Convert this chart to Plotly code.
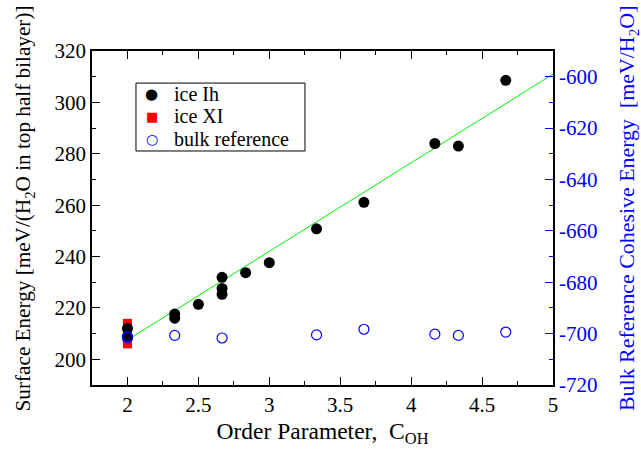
import plotly.graph_objects as go

# Data
ih_x = [2, 2, 2.333, 2.333, 2.5, 2.667, 2.667, 2.667, 2.833, 3, 3.333, 3.667, 4.167, 4.333, 4.667]
ih_y = [212.0, 208.5, 217.6, 216.0, 221.4, 231.9, 227.6, 225.3, 233.7, 237.6, 250.8, 261.1, 284.0, 283.0, 308.6]

xi_x = [2, 2, 2, 2]
xi_y = [214.0, 211.0, 208.5, 206.0]

bulk_x = [2, 2, 2.333, 2.667, 3.333, 3.667, 4.167, 4.333, 4.667]
bulk_y = [-701.2, -701.6, -700.7, -701.7, -700.5, -698.3, -700.2, -700.7, -699.4]

fit_x = [2, 5]
fit_y = [207.5, 311.0]

left_ticks = [200, 220, 240, 260, 280, 300, 320]
right_ticks = [-720, -700, -680, -660, -640, -620, -600]
x_ticks = [2, 2.5, 3, 3.5, 4, 4.5, 5]

legend_names = ["ice Ih", "ice XI", "bulk reference"]
legend_glyphs = ["\u25cf", "\u25a0", "\u25cb"]
legend_colors = ["black", "#ff0000", "#0000ff"]

FONT = "Liberation Serif, Times New Roman, serif"
BLUE = "#0000ff"

fig = go.Figure()
fig.add_trace(go.Scatter(x=fit_x, y=fit_y, mode="lines", line=dict(color="#00ee00", width=1),
                         showlegend=False, hoverinfo="skip"))
fig.add_trace(go.Scatter(x=xi_x, y=xi_y, mode="markers", name="ice XI",
                         marker=dict(symbol="square", size=9, color="#ff0000")))
fig.add_trace(go.Scatter(x=ih_x, y=ih_y, mode="markers", name="ice Ih",
                         marker=dict(symbol="circle", size=11, color="black")))
fig.add_trace(go.Scatter(x=bulk_x, y=bulk_y, mode="markers", name="bulk reference", yaxis="y2",
                         marker=dict(symbol="circle-open", size=10, color=BLUE, line=dict(width=1.2, color=BLUE))))
# invisible trace on a top x axis to carry mirrored ticks
fig.add_trace(go.Scatter(x=fit_x, y=fit_y, xaxis="x2", mode="lines", line=dict(width=0),
                         opacity=0, showlegend=False, hoverinfo="skip"))

# manual legend box (paper coordinates)
lx0, lx1, ly0, ly1 = 0.0954, 0.462, 0.7006, 0.904
fig.add_shape(type="rect", xref="paper", yref="paper", x0=lx0, x1=lx1, y0=ly0, y1=ly1,
              line=dict(color="black", width=1), fillcolor="white", layer="above")
item_y = [0.871, 0.804, 0.737]
glyph_sizes = [15, 13, 14]
for name, glyph, col, yy, gs in zip(legend_names, legend_glyphs, legend_colors, item_y, glyph_sizes):
    fig.add_annotation(xref="paper", yref="paper", x=0.1295, y=yy, text=glyph, showarrow=False,
                       xanchor="center", yanchor="middle",
                       font=dict(family="DejaVu Sans", size=gs, color=col))
    fig.add_annotation(xref="paper", yref="paper", x=0.1746, y=yy, text=name, showarrow=False,
                       xanchor="left", yanchor="middle", font=dict(family=FONT, size=20, color="black"))

# y-axis titles as rotated annotations for exact placement
fig.add_annotation(xref="paper", yref="paper", x=-0.148, y=0.528, textangle=-90,
                   text="Surface Energy [meV/(H<sub>2</sub>O in top half bilayer)]", showarrow=False,
                   xanchor="center", yanchor="middle", font=dict(family=FONT, size=21.2, color="black"))
fig.add_annotation(xref="paper", yref="paper", x=1.1627, y=0.527, textangle=-90,
                   text="Bulk Reference Cohesive Energy  [meV/H<sub>2</sub>O]", showarrow=False,
                   xanchor="center", yanchor="middle", font=dict(family=FONT, size=21.9, color=BLUE))

fig.update_layout(
    width=641, height=452,
    margin=dict(l=92, r=88, t=51, b=67),
    paper_bgcolor="white", plot_bgcolor="white",
    font=dict(family=FONT, size=21, color="black"),
    showlegend=False,
    xaxis=dict(range=[1.75, 5], tickvals=x_ticks, ticktext=[str(v) for v in x_ticks],
               ticks="inside", ticklen=8, tickwidth=1, tickcolor="black",
               showline=True, linecolor="black", linewidth=1.5, mirror=True,
               showgrid=False, zeroline=False,
               minor=dict(dtick=0.25, tick0=0, ticks="inside", ticklen=4, tickcolor="black", showgrid=False),
               title=dict(text="Order Parameter,  C<sub>OH</sub>", font=dict(size=23.5), standoff=7),
               tickfont=dict(size=21)),
    xaxis2=dict(range=[1.75, 5], overlaying="x", side="top", tickvals=x_ticks,
                showticklabels=False, ticks="inside", ticklen=8, tickwidth=1, tickcolor="black",
                showline=False, showgrid=False, zeroline=False,
                minor=dict(dtick=0.25, tick0=0, ticks="inside", ticklen=4, tickcolor="black", showgrid=False)),
    yaxis=dict(range=[190, 320], tickvals=left_ticks, ticktext=[str(v) for v in left_ticks],
               ticks="inside", ticklen=8, tickwidth=1, tickcolor="black",
               showline=True, linecolor="black", linewidth=1.5, mirror=False,
               showgrid=False, zeroline=False,
               minor=dict(dtick=10, tick0=0, ticks="inside", ticklen=4, tickcolor="black", showgrid=False),
               tickfont=dict(size=21)),
    yaxis2=dict(range=[-720, -590], overlaying="y", side="right",
                tickvals=right_ticks, ticktext=[str(v) for v in right_ticks],
                ticks="inside", ticklen=8, tickwidth=1, tickcolor=BLUE,
                showline=True, linecolor="black", linewidth=1.5,
                showgrid=False, zeroline=False,
                minor=dict(dtick=10, tick0=0, ticks="inside", ticklen=4, tickcolor=BLUE, showgrid=False),
                tickfont=dict(size=21, color=BLUE)),
)

fig.write_html("out.html", config={"displayModeBar": False},
               post_script="document.body.style.margin='0';")
